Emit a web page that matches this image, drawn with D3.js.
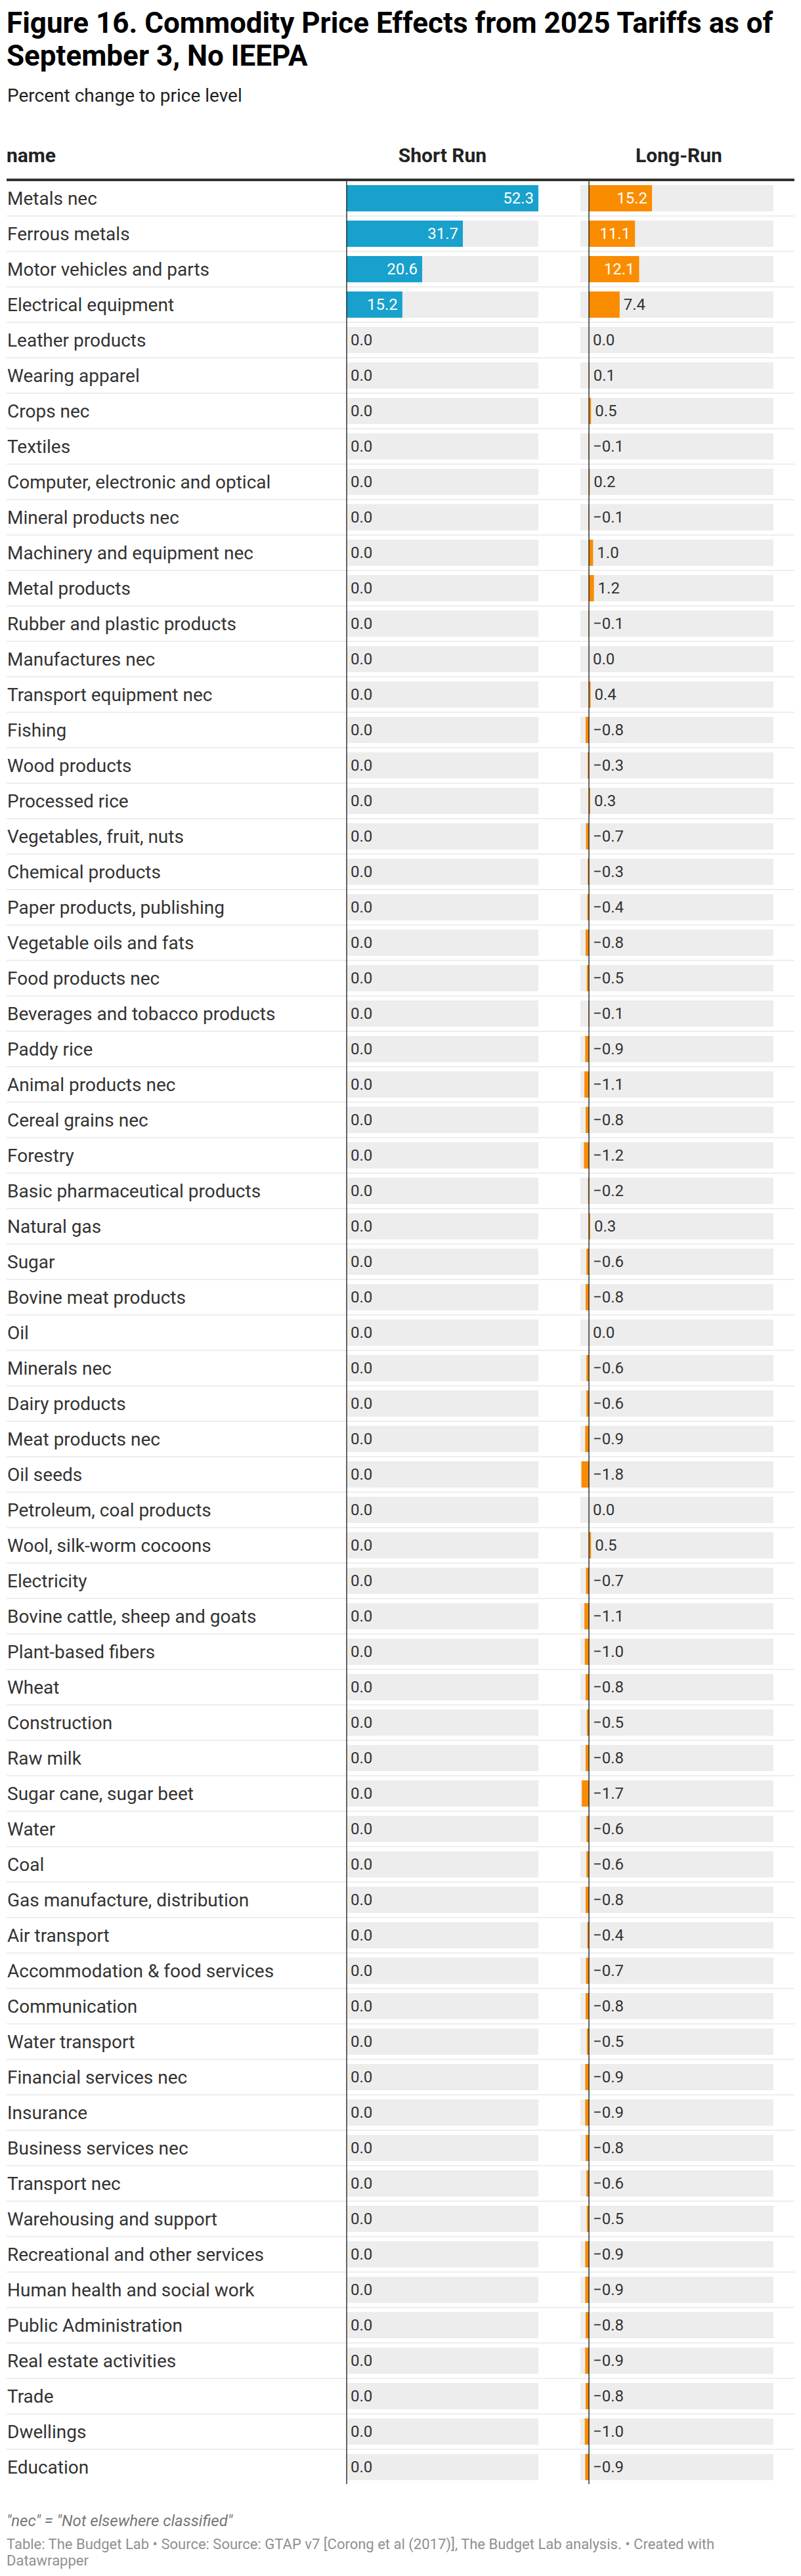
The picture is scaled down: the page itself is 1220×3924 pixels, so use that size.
<!DOCTYPE html>
<html>
<head>
<meta charset="utf-8">
<script src="https://cdn.jsdelivr.net/npm/d3@7"></script>
<style>
  html, body { margin: 0; padding: 0; background: #fff; }
  text { font-family: Roboto, "Noto Sans", sans-serif; }
</style>
</head>
<body>
<svg id="chart"></svg>
<script>
// Data
const names = [
  "Metals nec", "Ferrous metals", "Motor vehicles and parts", "Electrical equipment",
  "Leather products", "Wearing apparel", "Crops nec", "Textiles",
  "Computer, electronic and optical", "Mineral products nec", "Machinery and equipment nec",
  "Metal products", "Rubber and plastic products", "Manufactures nec", "Transport equipment nec",
  "Fishing", "Wood products", "Processed rice", "Vegetables, fruit, nuts", "Chemical products",
  "Paper products, publishing", "Vegetable oils and fats", "Food products nec",
  "Beverages and tobacco products", "Paddy rice", "Animal products nec", "Cereal grains nec",
  "Forestry", "Basic pharmaceutical products", "Natural gas", "Sugar", "Bovine meat products",
  "Oil", "Minerals nec", "Dairy products", "Meat products nec", "Oil seeds",
  "Petroleum, coal products", "Wool, silk-worm cocoons", "Electricity",
  "Bovine cattle, sheep and goats", "Plant-based fibers", "Wheat", "Construction", "Raw milk",
  "Sugar cane, sugar beet", "Water", "Coal", "Gas manufacture, distribution", "Air transport",
  "Accommodation & food services", "Communication", "Water transport", "Financial services nec",
  "Insurance", "Business services nec", "Transport nec", "Warehousing and support",
  "Recreational and other services", "Human health and social work", "Public Administration",
  "Real estate activities", "Trade", "Dwellings", "Education"
];

const shortRun = [
  52.3, 31.7, 20.6, 15.2, 0, 0, 0, 0, 0, 0, 0, 0, 0, 0, 0, 0, 0, 0, 0, 0, 0, 0,
  0, 0, 0, 0, 0, 0, 0, 0, 0, 0, 0, 0, 0, 0, 0, 0, 0, 0, 0, 0, 0, 0, 0, 0, 0, 0,
  0, 0, 0, 0, 0, 0, 0, 0, 0, 0, 0, 0, 0, 0, 0, 0, 0
];

const longRun = [
  15.2, 11.1, 12.1, 7.4, 0.0, 0.1, 0.5, -0.1, 0.2, -0.1, 1.0, 1.2, -0.1, 0.0, 0.4,
  -0.8, -0.3, 0.3, -0.7, -0.3, -0.4, -0.8, -0.5, -0.1, -0.9, -1.1, -0.8, -1.2, -0.2,
  0.3, -0.6, -0.8, 0.0, -0.6, -0.6, -0.9, -1.8, 0.0, 0.5, -0.7, -1.1, -1.0, -0.8,
  -0.5, -0.8, -1.7, -0.6, -0.6, -0.8, -0.4, -0.7, -0.8, -0.5, -0.9, -0.9, -0.8,
  -0.6, -0.5, -0.9, -0.9, -0.8, -0.9, -0.8, -1.0, -0.9
];

const columns = ["name", "Short Run", "Long-Run"];
const longDomain = [-2.06, 44.46];

const title = ["Figure 16. Commodity Price Effects from 2025 Tariffs as of", "September 3, No IEEPA"];
const subtitle = "Percent change to price level";
const note = "\"nec\" = \"Not elsewhere classified\"";
const source = ["Table: The Budget Lab \u2022 Source: Source: GTAP v7 [Corong et al (2017)], The Budget Lab analysis. \u2022 Created with", "Datawrapper"];

// Layout
const width = 1220, height = 3924;
const left = 10, right = 1210;
const tableTop = 276, rowH = 54;
const barH = 40;
const colors = { short: "#18a1cd", long: "#fa8c00", bg: "#ededed", sep: "#eeeeee" };

const svg = d3.select("#chart")
  .attr("width", width)
  .attr("height", height)
  .attr("viewBox", `0 0 ${width} ${height}`);

svg.append("rect").attr("width", width).attr("height", height).attr("fill", "#fff");

// Title block
const t = svg.append("text")
  .attr("x", left)
  .attr("y", 50)
  .attr("font-size", 44)
  .attr("font-weight", 700)
  .attr("fill", "#000");
title.forEach((line, i) => {
  t.append("tspan").attr("x", left).attr("dy", i === 0 ? 0 : 50).text(line);
});

svg.append("text")
  .attr("x", left + 1)
  .attr("y", 155)
  .attr("font-size", 28)
  .attr("fill", "#222")
  .text(subtitle);

// Scales
const rows = names.map((n, i) => ({ name: n, s: shortRun[i], l: longRun[i] }));
const y = d3.scaleBand()
  .domain(names)
  .range([tableTop, tableTop + rowH * names.length]);

const xShort = d3.scaleLinear().domain([0, d3.max(shortRun)]).range([528, 820]);
const xLong = d3.scaleLinear().domain(longDomain).range([884, 1178]);
const fmt = d3.format(".1f");

// Header
const header = svg.append("g").attr("font-size", 30).attr("font-weight", 700).attr("fill", "#222");
header.append("text").attr("x", left).attr("y", 247).text(columns[0]);
header.append("text").attr("x", (xShort.range()[0] + xShort.range()[1]) / 2).attr("y", 247)
  .attr("text-anchor", "middle").text(columns[1]);
header.append("text").attr("x", 1034).attr("y", 247)
  .attr("text-anchor", "middle").text(columns[2]);

svg.append("rect")
  .attr("x", left).attr("y", 272)
  .attr("width", right - left).attr("height", 4)
  .attr("fill", "#333");

// Rows
const row = svg.selectAll("g.row")
  .data(rows)
  .enter()
  .append("g")
  .attr("class", "row")
  .attr("transform", d => `translate(0,${y(d.name)})`);

// separators
row.filter((d, i) => i < rows.length - 1)
  .append("rect")
  .attr("x", left).attr("y", y.bandwidth() - 2)
  .attr("width", right - left).attr("height", 2)
  .attr("fill", colors.sep);

row.append("text")
  .attr("x", left + 1)
  .attr("y", 26)
  .attr("dy", "0.35em")
  .attr("font-size", 28)
  .attr("fill", "#333")
  .text(d => d.name);

// bar backgrounds
row.append("rect")
  .attr("x", xShort.range()[0]).attr("y", 6)
  .attr("width", xShort.range()[1] - xShort.range()[0]).attr("height", barH)
  .attr("fill", colors.bg);
row.append("rect")
  .attr("x", xLong.range()[0]).attr("y", 6)
  .attr("width", xLong.range()[1] - xLong.range()[0]).attr("height", barH)
  .attr("fill", colors.bg);

// bars
row.append("rect")
  .attr("x", d => xShort(Math.min(0, d.s)))
  .attr("y", 6)
  .attr("width", d => Math.abs(xShort(d.s) - xShort(0)))
  .attr("height", barH)
  .attr("fill", colors.short);
row.append("rect")
  .attr("x", d => xLong(Math.min(0, d.l)))
  .attr("y", 6)
  .attr("width", d => Math.abs(xLong(d.l) - xLong(0)))
  .attr("height", barH)
  .attr("fill", colors.long);

// value labels
function addLabels(key, x) {
  row.append("text")
    .attr("y", 26)
    .attr("dy", "0.35em")
    .attr("font-size", 24)
    .text(d => fmt(d[key]))
    .each(function(d) {
      const v = d[key];
      const w = this.getComputedTextLength();
      const barW = Math.abs(x(v) - x(0));
      const sel = d3.select(this);
      if (v > 0 && barW > w + 16) {
        sel.attr("x", x(v) - 7).attr("text-anchor", "end").attr("fill", "#fff");
      } else {
        sel.attr("x", x(Math.max(0, v)) + 6).attr("text-anchor", "start").attr("fill", "#333");
      }
    });
}
addLabels("s", xShort);
addLabels("l", xLong);

// zero lines
const yEnd = tableTop + rowH * names.length - 2;
[xShort(0), xLong(0)].forEach(x0 => {
  svg.append("line")
    .attr("x1", x0).attr("x2", x0)
    .attr("y1", 276).attr("y2", yEnd)
    .attr("stroke", "#000")
    .attr("stroke-opacity", 0.6)
    .attr("stroke-width", 2);
});

// Footer
svg.append("text")
  .attr("x", left)
  .attr("y", 3848)
  .attr("font-size", 24)
  .attr("font-style", "italic")
  .attr("fill", "#777")
  .text(note);

const src = svg.append("text")
  .attr("x", left)
  .attr("y", 3883)
  .attr("font-size", 22)
  .attr("fill", "#909090");
source.forEach((line, i) => {
  src.append("tspan").attr("x", left).attr("dy", i === 0 ? 0 : 25).text(line);
});
</script>
</body>
</html>
